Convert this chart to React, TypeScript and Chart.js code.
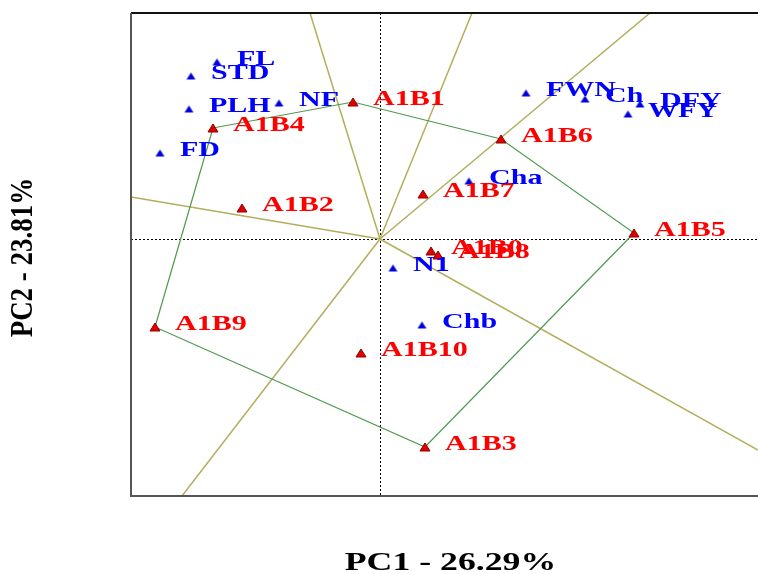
import { useEffect, useRef } from 'react';
import { Chart, registerables } from 'chart.js';

Chart.register(...registerables);

// Trait loadings (blue) on the first two principal components
const traitNames = ['FL', 'STD', 'PLH', 'NF', 'FD', 'FWN', 'Ch', 'DFY', 'WFY', 'Cha', 'N1', 'Chb'];
const traitPC1 = [-1.63, -1.89, -1.91, -1.01, -2.2, 1.46, 2.05, 2.6, 2.48, 0.89, 0.13, 0.42];
const traitPC2 = [1.77, 1.63, 1.3, 1.36, 0.86, 1.46, 1.4, 1.35, 1.25, 0.58, -0.29, -0.86];

// Genotype scores (red)
const genotypeNames = ['A1B1', 'A1B2', 'A1B3', 'A1B4', 'A1B5', 'A1B6', 'A1B7', 'A1B0', 'A1B8', 'A1B9', 'A1B10'];
const genotypePC1 = [-0.27, -1.38, 0.45, -1.67, 2.54, 1.21, 0.43, 0.51, 0.58, -2.25, -0.19];
const genotypePC2 = [1.37, 0.31, -2.08, 1.11, 0.06, 1.0, 0.45, -0.12, -0.16, -0.88, -1.14];

// Vertices of the polygon joining the outermost genotypes
const hullOrder = ['A1B4', 'A1B1', 'A1B6', 'A1B5', 'A1B3', 'A1B9'];

// Sector rays from the origin, given by where they leave the plot
const rayPC1 = [-0.7, 0.92, 2.7, -2.49, 3.78, -1.98];
const rayPC2 = [2.26, 2.26, 2.26, 0.42, -2.11, -2.57];

const pc1Range = [-2.49, 3.78];
const pc2Range = [-2.57, 2.26];
const axisTitles = ['PC1 - 26.29%', 'PC2 - 23.81%'];

const LABEL_FONT = 'bold 21px "Liberation Serif", "Times New Roman", serif';
const TITLE_FONT = 'bold 25px "Liberation Serif", "Times New Roman", serif';
const Y_TITLE_FONT = 'bold 27px "Liberation Serif", "Times New Roman", serif';
const WIDEN = 1.43;

function triangleMarker(w: number, h: number, fill: string, stroke?: string) {
  const c = document.createElement('canvas');
  c.width = w + 2;
  c.height = h + 2;
  const g = c.getContext('2d')!;
  g.beginPath();
  g.moveTo((w + 2) / 2, 1);
  g.lineTo(w + 1, h + 1);
  g.lineTo(1, h + 1);
  g.closePath();
  g.fillStyle = fill;
  g.fill();
  if (stroke) {
    g.strokeStyle = stroke;
    g.lineWidth = 1;
    g.stroke();
  }
  return c;
}

const framePlugin = {
  id: 'biplotFrame',
  beforeDatasetsDraw(chart: any) {
    const { ctx, chartArea: a, scales } = chart;
    const x0 = scales.x.getPixelForValue(0);
    const y0 = scales.y.getPixelForValue(0);
    ctx.save();
    ctx.strokeStyle = '#000';
    ctx.lineWidth = 1;
    ctx.setLineDash([2, 2]);
    ctx.beginPath();
    ctx.moveTo(Math.round(x0) + 0.5, a.top);
    ctx.lineTo(Math.round(x0) + 0.5, a.bottom);
    ctx.moveTo(a.left, Math.round(y0) + 0.5);
    ctx.lineTo(a.right, Math.round(y0) + 0.5);
    ctx.stroke();
    ctx.restore();
  },
  afterDraw(chart: any) {
    const { ctx, chartArea: a } = chart;
    ctx.save();
    ctx.lineWidth = 2;
    ctx.strokeStyle = '#111';
    ctx.beginPath();
    ctx.moveTo(a.left, a.top);
    ctx.lineTo(a.right, a.top);
    ctx.stroke();
    ctx.strokeStyle = '#555';
    ctx.beginPath();
    ctx.moveTo(a.left, a.top);
    ctx.lineTo(a.left, a.bottom);
    ctx.lineTo(a.right, a.bottom);
    ctx.stroke();

    // axis titles
    ctx.fillStyle = '#000';
    ctx.textAlign = 'center';
    ctx.textBaseline = 'middle';
    ctx.font = TITLE_FONT;
    ctx.save();
    ctx.translate((a.left + a.right) / 2 + 6, a.bottom + 68);
    ctx.scale(WIDEN, 1);
    ctx.fillText(axisTitles[0], 0, 0);
    ctx.restore();
    ctx.font = Y_TITLE_FONT;
    ctx.save();
    ctx.translate(24, (a.top + a.bottom) / 2 + 3);
    ctx.rotate(-Math.PI / 2);
    ctx.scale(1, 1.2);
    ctx.fillText(axisTitles[1], 0, 0);
    ctx.restore();
    ctx.restore();
  },
};

const labelPlugin = {
  id: 'pointLabels',
  afterDatasetsDraw(chart: any) {
    const { ctx } = chart;
    ctx.save();
    ctx.font = LABEL_FONT;
    ctx.textAlign = 'left';
    ctx.textBaseline = 'middle';
    chart.data.datasets.forEach((ds: any, i: number) => {
      if (!ds.names) return;
      const meta = chart.getDatasetMeta(i);
      ctx.fillStyle = ds.labelColor;
      meta.data.forEach((pt: any, j: number) => {
        ctx.save();
        ctx.translate(pt.x + 20, pt.y - 2);
        ctx.scale(WIDEN, 1);
        ctx.fillText(ds.names[j], 0, 0);
        ctx.restore();
      });
    });
    ctx.restore();
  },
};

export default function App() {
  const ref = useRef<HTMLCanvasElement>(null);

  useEffect(() => {
    const canvas = ref.current;
    if (!canvas) return;

    const traitPoints = traitNames.map((_, i) => ({ x: traitPC1[i], y: traitPC2[i] }));
    const genotypePoints = genotypeNames.map((_, i) => ({ x: genotypePC1[i], y: genotypePC2[i] }));
    const hullPoints = [...hullOrder, hullOrder[0]].map((n) => {
      const i = genotypeNames.indexOf(n);
      return { x: genotypePC1[i], y: genotypePC2[i] };
    });

    const rayDatasets = rayPC1.map((px, i) => ({
      type: 'scatter' as const,
      data: [{ x: 0, y: 0 }, { x: px, y: rayPC2[i] }],
      showLine: true,
      borderColor: '#b3ae5c',
      borderWidth: 1.5,
      pointRadius: 0,
      order: 3,
    }));

    const chart = new Chart(canvas, {
      type: 'scatter',
      data: {
        datasets: [
          {
            data: genotypePoints,
            names: genotypeNames,
            labelColor: '#ff0000',
            pointStyle: triangleMarker(10, 8, '#e00000', '#900000'),
            pointRadius: 5,
            order: 0,
          } as any,
          {
            data: traitPoints,
            names: traitNames,
            labelColor: '#0000ff',
            pointStyle: triangleMarker(9, 7, '#0000dd'),
            pointRadius: 5,
            order: 1,
          } as any,
          {
            data: hullPoints,
            showLine: true,
            borderColor: '#4f9a4f',
            borderWidth: 1.2,
            pointRadius: 0,
            order: 2,
          },
          ...rayDatasets,
        ],
      },
      options: {
        responsive: false,
        animation: false,
        events: [],
        layout: { autoPadding: false, padding: { left: 131, top: 13, right: 0, bottom: 78 } },
        plugins: { legend: { display: false }, tooltip: { enabled: false } },
        scales: {
          x: { type: 'linear', min: pc1Range[0], max: pc1Range[1], display: false },
          y: { type: 'linear', min: pc2Range[0], max: pc2Range[1], display: false },
        },
      },
      plugins: [framePlugin, labelPlugin],
    });

    return () => chart.destroy();
  }, []);

  return (
    <div style={{ position: 'absolute', left: 0, top: 0, width: 758, height: 574, background: '#fff' }}>
      <canvas ref={ref} width={758} height={574} style={{ display: 'block' }} />
    </div>
  );
}
